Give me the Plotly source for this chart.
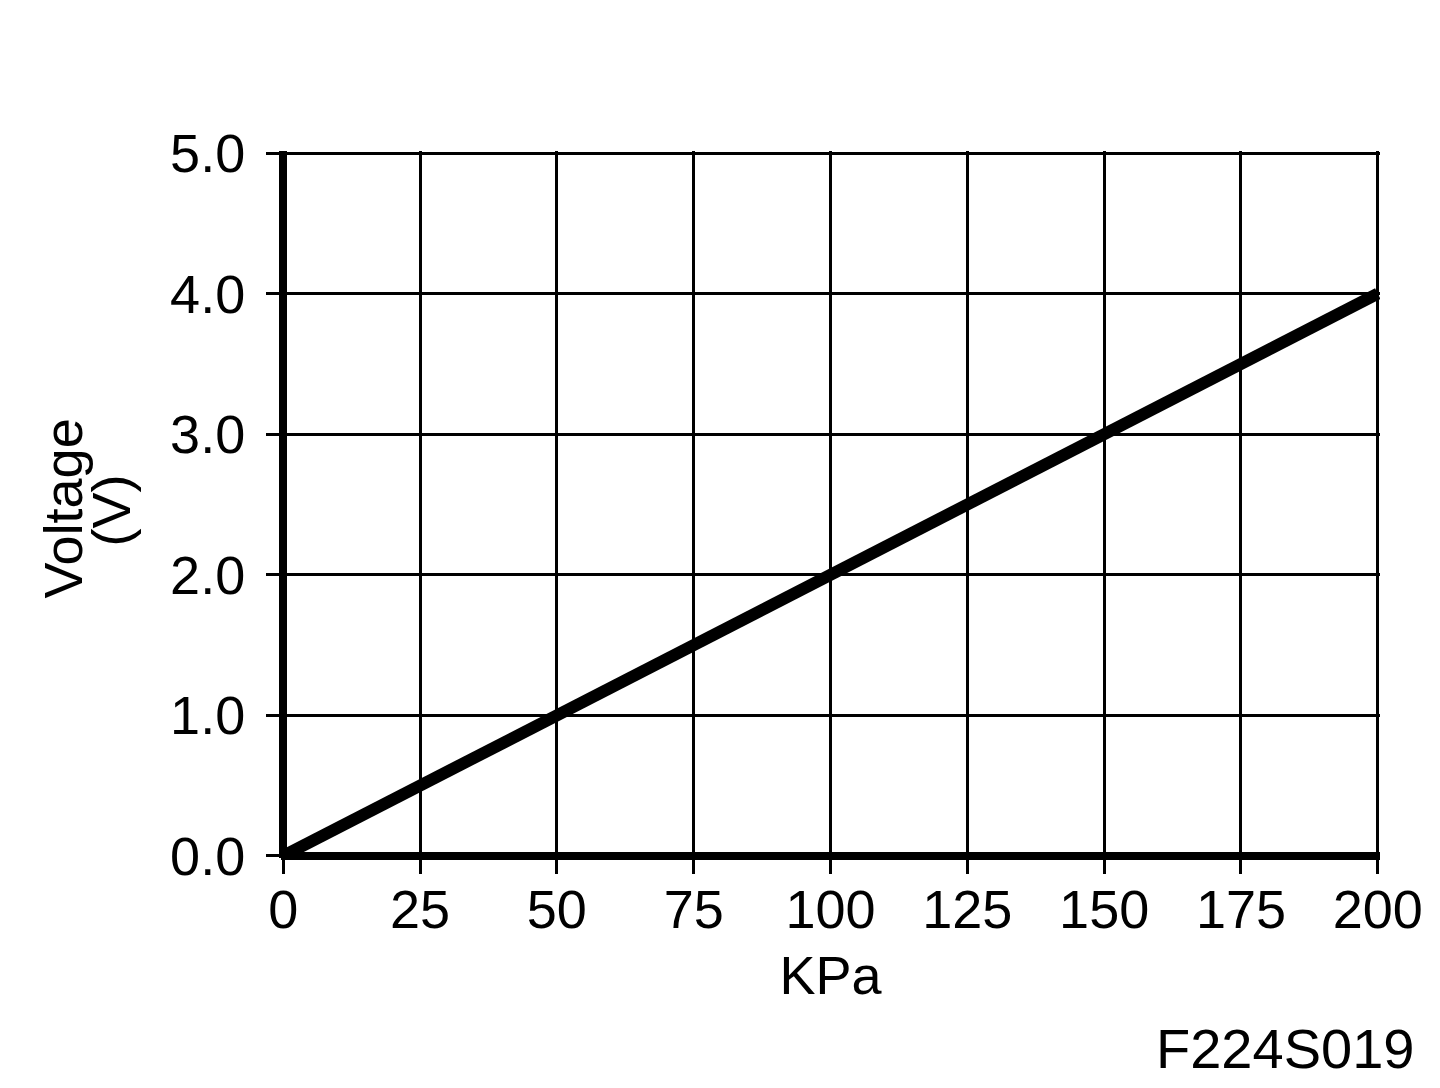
import plotly.graph_objects as go

pressure_kpa = [0, 200]
voltage_v = [0.0, 4.0]
x_ticks = [0, 25, 50, 75, 100, 125, 150, 175, 200]
y_ticks = [0.0, 1.0, 2.0, 3.0, 4.0, 5.0]
y_tick_text = ["0.0", "1.0", "2.0", "3.0", "4.0", "5.0"]

FONT = "Liberation Sans, Arial, sans-serif"
FS = 54

fig = go.Figure()
fig.add_trace(go.Scatter(
    x=pressure_kpa, y=voltage_v, mode="lines",
    line=dict(color="black", width=12),
    showlegend=False, hoverinfo="skip",
))

fig.update_layout(
    width=1432, height=1080,
    paper_bgcolor="white", plot_bgcolor="white",
    margin=dict(l=273, r=60, t=143, b=230, autoexpand=False),
    font=dict(family=FONT, color="black", size=FS),
    annotations=[
        dict(text="F224S019", xref="paper", yref="paper",
             x=1.0, y=0.0, xanchor="right", yanchor="middle",
             xshift=36, yshift=-190, showarrow=False,
             font=dict(size=56, family=FONT, color="black")),
        dict(text="Voltage", xref="paper", yref="paper",
             x=0.0, y=0.5, xanchor="center", yanchor="middle", textangle=-90,
             xshift=-219, yshift=-4, showarrow=False,
             font=dict(size=FS, family=FONT, color="black")),
        dict(text="(V)", xref="paper", yref="paper",
             x=0.0, y=0.5, xanchor="center", yanchor="middle", textangle=-90,
             xshift=-171, yshift=-6, showarrow=False,
             font=dict(size=FS, family=FONT, color="black")),
    ],
)

fig.update_xaxes(
    range=[-0.4, 200.4], tickvals=x_ticks, ticktext=[str(v) for v in x_ticks],
    showgrid=True, gridcolor="black", gridwidth=3,
    showline=False,
    zeroline=True, zerolinecolor="black", zerolinewidth=8,
    ticks="outside", ticklen=15, tickwidth=3, tickcolor="black",
    title=dict(text="KPa", font=dict(size=FS), standoff=18),
    tickfont=dict(size=FS),
    ticklabelstandoff=-11,
    automargin=False,
)
fig.update_yaxes(
    range=[-0.015, 5.015], tickvals=y_ticks, ticktext=y_tick_text,
    showgrid=True, gridcolor="black", gridwidth=3,
    showline=False,
    zeroline=True, zerolinecolor="black", zerolinewidth=8,
    ticks="outside", ticklen=14, tickwidth=3, tickcolor="black",
    tickfont=dict(size=FS),
    ticklabelstandoff=10,
    automargin=False,
)

fig.write_html("out.html")
